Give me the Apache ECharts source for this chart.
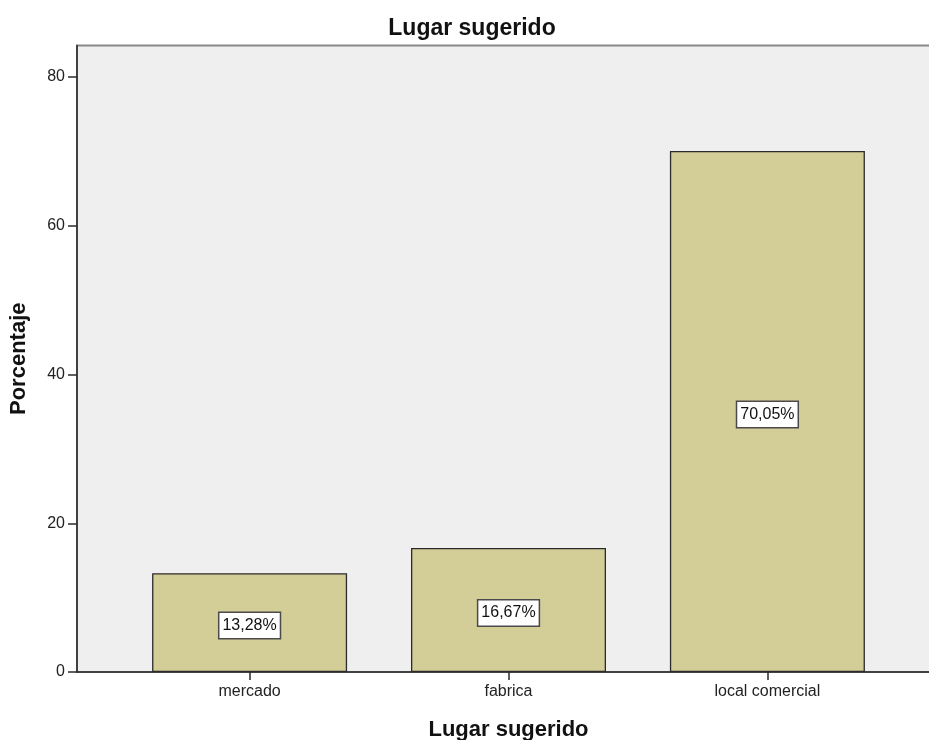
<!DOCTYPE html>
<html>
<head>
<meta charset="utf-8">
<script src="https://cdn.jsdelivr.net/npm/echarts@6/dist/echarts.min.js"></script>
<style>
  html, body { margin: 0; padding: 0; background: #fff; }
  #chart { width: 929px; height: 740px; }
</style>
</head>
<body>
<div id="chart"></div>
<script>
// Share of respondents per suggested place
const categories = ['mercado', 'fabrica', 'local comercial'];
const percentages = [13.28, 16.67, 70.05];
const yTicks = [0, 20, 40, 60, 80];

const FONT = '"Liberation Sans", Arial, sans-serif';

const chart = echarts.init(document.getElementById('chart'), null, { renderer: 'canvas' });

const fmtPct = v => v.toFixed(2).replace('.', ',') + '%';

chart.setOption({
  animation: false,
  backgroundColor: '#ffffff',
  title: {
    text: 'Lugar sugerido',
    left: 467,
    textAlign: 'center',
    top: 12,
    textStyle: { fontFamily: FONT, fontSize: 23, fontWeight: 'bold', color: '#111' }
  },
  grid: {
    left: 77,
    top: 45.5,
    width: 863,
    bottom: 68,
    outerBoundsMode: 'none',
    containLabel: false,
    show: true,
    backgroundColor: '#efefef',
    borderColor: '#888888',
    borderWidth: 2
  },
  xAxis: {
    type: 'value',
    min: -2 / 3,
    max: 8 / 3,
    name: 'Lugar sugerido',
    nameLocation: 'middle',
    nameGap: 47,
    nameTextStyle: { fontFamily: FONT, fontSize: 22, fontWeight: 'bold', color: '#111' },
    splitLine: { show: false },
    axisLine: { show: true, onZero: false, lineStyle: { color: '#2a2a2a', width: 1.5 } },
    axisTick: { show: true, length: 8, customValues: [0, 1, 2], lineStyle: { color: '#2a2a2a', width: 1.5 } },
    axisLabel: {
      customValues: [0, 1, 2],
      formatter: v => categories[Math.round(v)] || '',
      margin: 12,
      fontFamily: FONT,
      fontSize: 16,
      color: '#222'
    }
  },
  yAxis: {
    type: 'value',
    min: 0,
    max: 84.24,
    name: 'Porcentaje',
    nameLocation: 'middle',
    nameGap: 47,
    nameRotate: 90,
    nameTextStyle: { fontFamily: FONT, fontSize: 22, fontWeight: 'bold', color: '#111' },
    splitLine: { show: false },
    axisLine: { show: true, onZero: false, lineStyle: { color: '#2a2a2a', width: 1.5 } },
    axisTick: { show: true, length: 9, customValues: yTicks, lineStyle: { color: '#2a2a2a', width: 1.5 } },
    axisLabel: {
      customValues: yTicks,
      margin: 12,
      fontFamily: FONT,
      fontSize: 16,
      color: '#222'
    }
  },
  series: [{
    type: 'bar',
    data: percentages.map((v, i) => [i, v]),
    barWidth: 195,
    itemStyle: { color: '#d3cd97', borderColor: '#2b2b2b', borderWidth: 1.3 },
    label: {
      show: true,
      position: 'inside',
      offset: [0, 3],
      formatter: p => fmtPct(p.value[1]),
      fontFamily: FONT,
      fontSize: 16,
      color: '#111',
      backgroundColor: '#ffffff',
      borderColor: '#4a4a4a',
      borderWidth: 1.5,
      padding: [5, 3, 4, 3]
    }
  }]
});
</script>
</body>
</html>
